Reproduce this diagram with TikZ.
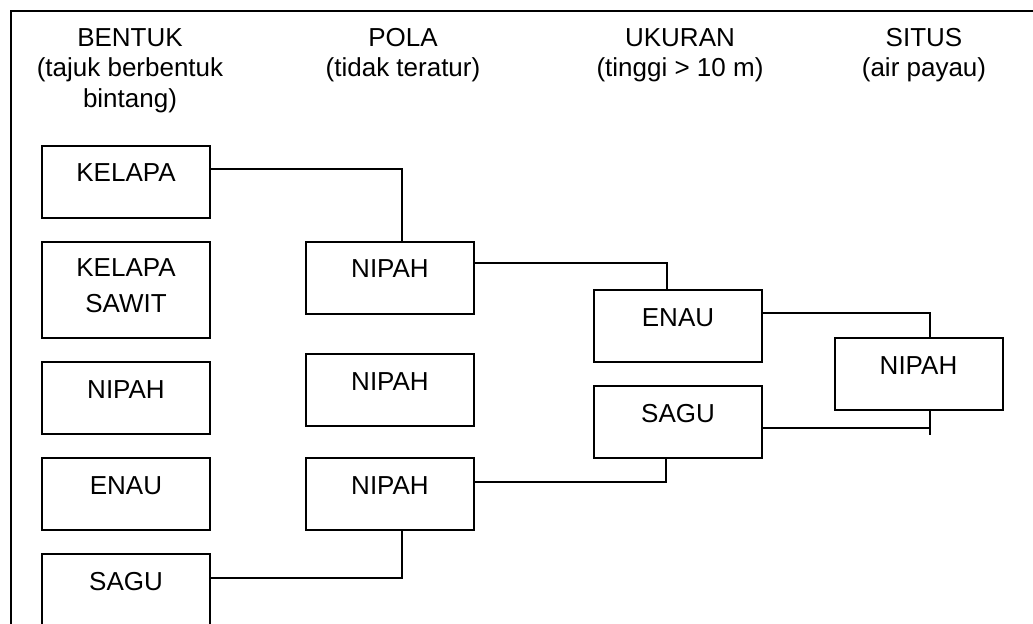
\documentclass[tikz,border=0pt]{standalone}
\usepackage{fontspec}
\setmainfont{Liberation Sans}

\begin{document}
\begin{tikzpicture}[x=0.75pt, y=-0.75pt,
    box/.style={draw, line width=1.5pt, minimum width=126pt, minimum height=54pt,
      inner sep=0pt, text height=14pt, text depth=14pt, align=center,
      font=\fontsize{19.5}{27}\selectfont},
    head/.style={align=center, inner sep=0pt, anchor=north,
      font=\fontsize{19.5}{22.9}\selectfont},
    link/.style={line width=1pt}]
  \useasboundingbox (0,0) rectangle (1033,624);
  % frame, runs off the page at right and bottom
  \draw[line width=1.5pt] (11,650) -- (11,11) -- (1060,11);

  % column heads
  \node[head] (hb) at (130,28) {BENTUK\\(tajuk berbentuk\\bintang)};
  \node[head] (hp) at (403,28) {POLA\\(tidak teratur)};
  \node[head] (hu) at (680,28) {UKURAN\\(tinggi > 10 m)};
  \node[head] (hs) at (924,28) {SITUS\\(air payau)};

  % bentuk
  \node[box] (k1) at (126,182) {KELAPA};
  \node[box, minimum height=72pt, text height=41pt, text depth=6.5pt] (k2) at (126,290) {KELAPA\\SAWIT};
  \node[box] (k3) at (126,398) {NIPAH};
  \node[box] (k4) at (126,494) {ENAU};
  \node[box] (k5) at (126,590) {SAGU};

  % pola
  \node[box] (p1) at (390,278) {NIPAH};
  \node[box] (p2) at (390,390) {NIPAH};
  \node[box] (p3) at (390,494) {NIPAH};

  % ukuran
  \node[box] (u1) at (678,326) {ENAU};
  \node[box] (u2) at (678,422) {SAGU};

  % situs
  \node[box] (s1) at (918.5,374) {NIPAH};

  \draw[link] ([yshift=9.75pt]k1.east) -| ([xshift=9pt]p1.north);
  \draw[link] ([yshift=9pt]k5.east) -| ([xshift=9pt]p3.south);
  \draw[link] ([yshift=11.25pt]p1.east) -| ([xshift=-8.25pt]u1.north);
  \draw[link] ([yshift=9pt]p3.east) -| ([xshift=-9pt]u2.south);
  \draw[link] ([yshift=9.75pt]u1.east) -| ([xshift=8.6pt]s1.north);
  % sagu joins below the last box
  \draw[link] ([xshift=8.6pt]s1.south) -- ++(0,-18pt) coordinate (tee);
  \draw[link] ([yshift=-4.5pt]u2.east) -- ([yshift=-4.5pt]u2.east -| tee);
\end{tikzpicture}
\end{document}
